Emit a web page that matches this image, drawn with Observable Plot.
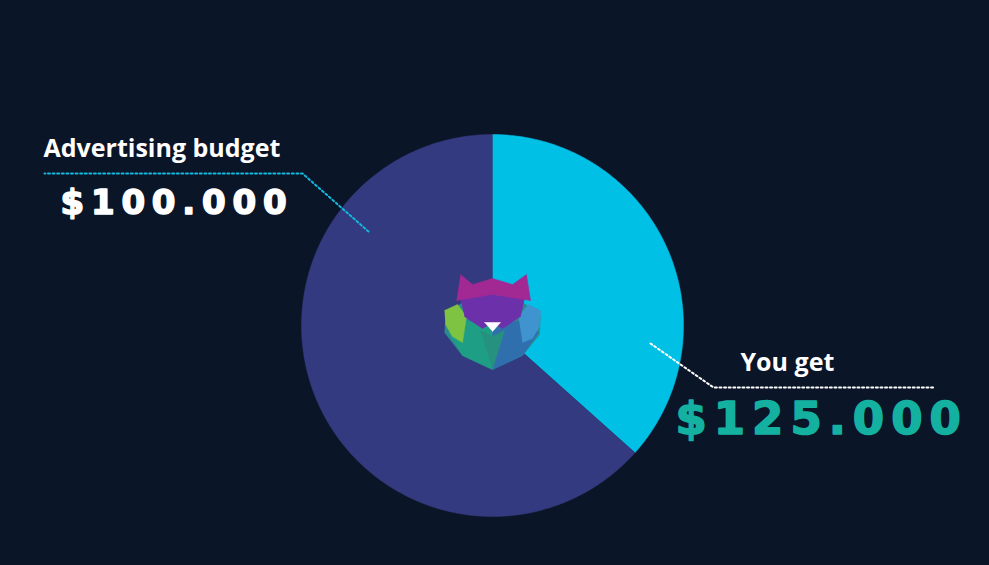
<!DOCTYPE html>
<html><head><meta charset="utf-8">
<script src="https://cdn.jsdelivr.net/npm/d3@7"></script>
<script src="https://cdn.jsdelivr.net/npm/@observablehq/plot@0.6"></script>
<style>
html,body{margin:0;padding:0;background:#0b1528;}
#chart{width:989px;height:565px;}
</style></head>
<body><div id="chart"></div>
<script>
// ---- data ----
const sliceLabels = ["You get", "Advertising budget"];
const sliceShares = [36.6, 63.4];
const sliceColors = ["#00c1e5", "#343a7f"];
const amountLabels = ["$125.000", "$100.000"];
const amountColors = ["#14b1a1", "#ffffff"];
const leaderColors = ["#ffffff", "#12b8de"];

// chart geometry (unit circle = pie radius)
const R = 191, CX = 492, CY = 325, W = 989, H = 565;
const u = (px, py) => [(px - CX) / R, (CY - py) / R];

// pie wedges computed by d3.pie from the shares
const pie = d3.pie().sort(null).value(d => d)(sliceShares);
const wedges = pie.map((p, i) => {
  const pts = [{x: 0, y: 0}];
  const n = Math.max(2, Math.ceil((p.endAngle - p.startAngle) / (Math.PI / 360)));
  for (let k = 0; k <= n; k++) {
    const a = p.startAngle + (p.endAngle - p.startAngle) * k / n;
    pts.push({x: Math.sin(a), y: Math.cos(a)});
  }
  return {pts, color: sliceColors[i]};
});

// annotation anchors (pixel positions converted to chart units)
const leaders = [
  [u(650, 343), u(713, 387), u(934, 387)],
  [u(368, 231), u(302, 173), u(44, 173)]
].map(l => l.map(([x, y]) => ({x, y})));
const titlePos = [u(740, 362), u(43, 148)];
const amountPos = [u(675, 419), u(60, 203)];

// small logo shape (pixel offsets from pie centre)
const logoParts = [
  {c: "#2b8a8f", p: [[-47,-8],[-30,-20],[0,-12],[30,-20],[48,-8],[47,12],[30,33],[0,47],[-30,33],[-48,10]]},
  {c: "#1f9e86", p: [[-30,-2],[0,2],[0,47],[-30,33],[-44,10]]},
  {c: "#2f6fae", p: [[0,2],[32,-2],[46,10],[30,33],[0,47]]},
  {c: "#26917f", p: [[-12,8],[0,14],[12,8],[0,47]]},
  {c: "#7ec342", p: [[-48,-12],[-35,-18],[-26,-6],[-30,20],[-40,14],[-47,2]]},
  {c: "#3f94cf", p: [[26,-6],[36,-18],[48,-12],[47,4],[40,16],[30,20]]},
  {c: "#6c30aa", p: [[-32,-24],[0,-28],[32,-24],[28,-6],[10,6],[0,0],[-10,6],[-28,-6]]},
  {c: "#a22894", p: [[-32,-48],[-20,-38],[0,-44],[20,-38],[34,-48],[38,-22],[0,-28],[-36,-22]]},
  {c: "#ffffff", p: [[-8,0],[8,0],[0,9]]}
].map(d => ({c: d.c, pts: d.p.map(([dx, dy]) => { const [x, y] = u(CX + dx, CY - 3 + dy); return {x, y}; })}));

const chart = Plot.plot({
  width: W, height: H, margin: 0,
  x: {domain: [-CX / R, (W - CX) / R], axis: null},
  y: {domain: [-(H - CY) / R, CY / R], axis: null},
  style: {background: "#0b1528", overflow: "visible"},
  marks: [
    ...wedges.map(w => Plot.line(w.pts, {x: "x", y: "y", fill: w.color, stroke: w.color, strokeWidth: 0.5})),
    ...logoParts.map(d => Plot.line(d.pts, {x: "x", y: "y", fill: d.c, stroke: d.c, strokeWidth: 0.5})),
    ...leaders.map((l, i) => Plot.line(l, {x: "x", y: "y", stroke: leaderColors[i], strokeWidth: 2, strokeDasharray: "2 2.6"})),
    Plot.text(sliceLabels, {x: (d, i) => titlePos[i][0], y: (d, i) => titlePos[i][1], text: d => d,
      textAnchor: "start", fill: "#ffffff", fontSize: 25, fontWeight: 700, fontFamily: "Open Sans"}),
    Plot.text(amountLabels, {x: (d, i) => amountPos[i][0], y: (d, i) => amountPos[i][1], text: d => d,
      textAnchor: "start", fill: (d, i) => amountColors[i], stroke: (d, i) => amountColors[i], strokeWidth: 1.6,
      fontSize: (d, i) => i === 0 ? 45 : 34, fontWeight: 700, fontFamily: "DejaVu Sans"})
  ]
});
// letter spacing for the amount labels
chart.querySelectorAll("text").forEach(t => {
  if (t.textContent === amountLabels[0]) t.setAttribute("letter-spacing", "7");
  if (t.textContent === amountLabels[1]) t.setAttribute("letter-spacing", "6.8");
});
document.getElementById("chart").appendChild(chart);
</script>
</body></html>
